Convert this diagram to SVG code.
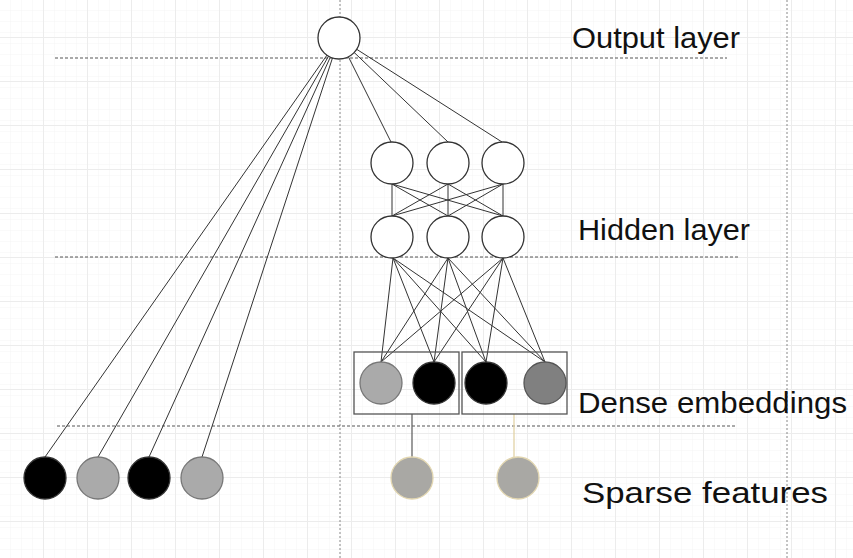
<svg xmlns="http://www.w3.org/2000/svg" width="853" height="558" viewBox="0 0 853 558">
<defs>
<pattern id="minor" width="11" height="11" patternUnits="userSpaceOnUse">
<path d="M11 0V11M0 11H11" fill="none" stroke="#f4f4f4" stroke-width="1"/>
</pattern>
<pattern id="major" x="0" y="0" width="44" height="44" patternUnits="userSpaceOnUse">
<rect width="44" height="44" fill="url(#minor)"/>
<path d="M43.5 0V44M0 37.5H44" fill="none" stroke="#ececec" stroke-width="1"/>
</pattern>
</defs>
<style>
.guide{stroke:#555;stroke-width:1;stroke-dasharray:3 2;fill:none}
.vguide{stroke:#888;stroke-width:1;stroke-dasharray:2 2;fill:none}
.edge{stroke:#333;stroke-width:1;fill:none}
.n{stroke:#333;stroke-width:1.3}
.white{fill:#fff}
.black{fill:#000}
.light{fill:#aaa;stroke:#777}
.mid{fill:#808080;stroke:#555}
.sparse{fill:#a9a8a4;stroke:#e2d6b0;stroke-width:1.3}
.box{fill:none;stroke:#555;stroke-width:1.3}
.lbl{font-family:"Liberation Sans",Arial,sans-serif;font-size:30px;fill:#111}
</style>
<rect width="853" height="558" fill="#fff"/>
<rect width="853" height="558" fill="url(#major)"/>
<g id="guides">
<line class="vguide" x1="340" y1="0" x2="340" y2="558"/>
<line class="vguide" x1="787" y1="0" x2="787" y2="558"/>
<line class="guide" x1="55" y1="58" x2="727" y2="58"/>
<line class="guide" x1="55" y1="257" x2="738" y2="257"/>
<line class="guide" x1="57" y1="426" x2="737" y2="426"/>
</g>
<g id="connectors">
<line class="edge" x1="339" y1="38" x2="45" y2="457"/>
<line class="edge" x1="339" y1="38" x2="98" y2="457"/>
<line class="edge" x1="339" y1="38" x2="149" y2="457"/>
<line class="edge" x1="339" y1="38" x2="202" y2="457"/>
<line class="edge" x1="339" y1="38" x2="391" y2="142"/>
<line class="edge" x1="339" y1="38" x2="448" y2="142"/>
<line class="edge" x1="339" y1="38" x2="502" y2="142"/>
<line class="edge" x1="392" y1="184" x2="392" y2="216"/>
<line class="edge" x1="392" y1="184" x2="448" y2="216"/>
<line class="edge" x1="392" y1="184" x2="503" y2="216"/>
<line class="edge" x1="448" y1="184" x2="392" y2="216"/>
<line class="edge" x1="448" y1="184" x2="448" y2="216"/>
<line class="edge" x1="448" y1="184" x2="503" y2="216"/>
<line class="edge" x1="503" y1="184" x2="392" y2="216"/>
<line class="edge" x1="503" y1="184" x2="448" y2="216"/>
<line class="edge" x1="503" y1="184" x2="503" y2="216"/>
<line class="edge" x1="393" y1="258" x2="381" y2="362"/>
<line class="edge" x1="393" y1="258" x2="434" y2="362"/>
<line class="edge" x1="393" y1="258" x2="486" y2="362"/>
<line class="edge" x1="393" y1="258" x2="545" y2="362"/>
<line class="edge" x1="448" y1="258" x2="381" y2="362"/>
<line class="edge" x1="448" y1="258" x2="434" y2="362"/>
<line class="edge" x1="448" y1="258" x2="486" y2="362"/>
<line class="edge" x1="448" y1="258" x2="545" y2="362"/>
<line class="edge" x1="503" y1="258" x2="381" y2="362"/>
<line class="edge" x1="503" y1="258" x2="434" y2="362"/>
<line class="edge" x1="503" y1="258" x2="486" y2="362"/>
<line class="edge" x1="503" y1="258" x2="545" y2="362"/>
<line x1="412" y1="414" x2="412" y2="460" stroke="#666" stroke-width="1.3"/>
<line x1="514" y1="414" x2="514" y2="460" stroke="#e2d3a6" stroke-width="1.3"/>
</g>
<g id="output"><circle class="n white" cx="339" cy="38" r="21"/></g>
<g id="hidden1a"><circle class="n white" cx="392" cy="163" r="21"/></g>
<g id="hidden1b"><circle class="n white" cx="448" cy="163" r="21"/></g>
<g id="hidden1c"><circle class="n white" cx="503" cy="163" r="21"/></g>
<g id="hidden2a"><circle class="n white" cx="392" cy="237" r="21"/></g>
<g id="hidden2b"><circle class="n white" cx="448" cy="237" r="21"/></g>
<g id="hidden2c"><circle class="n white" cx="503" cy="237" r="21"/></g>
<g id="embed1">
<rect class="box" x="354" y="352" width="105" height="62"/>
<circle class="n light" cx="381" cy="383" r="21"/>
<circle class="n black" cx="434" cy="383" r="21"/>
</g>
<g id="embed2">
<rect class="box" x="462" y="352" width="105" height="62"/>
<circle class="n black" cx="486" cy="383" r="21"/>
<circle class="n mid" cx="545" cy="383" r="21"/>
</g>
<g id="sparse1"><circle class="n black" cx="45" cy="478" r="21" stroke="#3a3420"/></g>
<g id="sparse2"><circle class="n light" cx="98" cy="478" r="21"/></g>
<g id="sparse3"><circle class="n black" cx="149" cy="478" r="21" stroke="#3a3420"/></g>
<g id="sparse4"><circle class="n light" cx="202" cy="478" r="21"/></g>
<g id="sparse5"><circle class="sparse" cx="412" cy="478" r="21"/></g>
<g id="sparse6"><circle class="sparse" cx="518" cy="478" r="21"/></g>
<g id="labels">
<text class="lbl" x="572" y="48" textLength="168" lengthAdjust="spacingAndGlyphs">Output layer</text>
<text class="lbl" x="578" y="240" textLength="172" lengthAdjust="spacingAndGlyphs">Hidden layer</text>
<text class="lbl" x="578" y="413" textLength="269" lengthAdjust="spacingAndGlyphs">Dense embeddings</text>
<text class="lbl" x="582" y="503" textLength="246" lengthAdjust="spacingAndGlyphs">Sparse features</text>
</g>
</svg>
